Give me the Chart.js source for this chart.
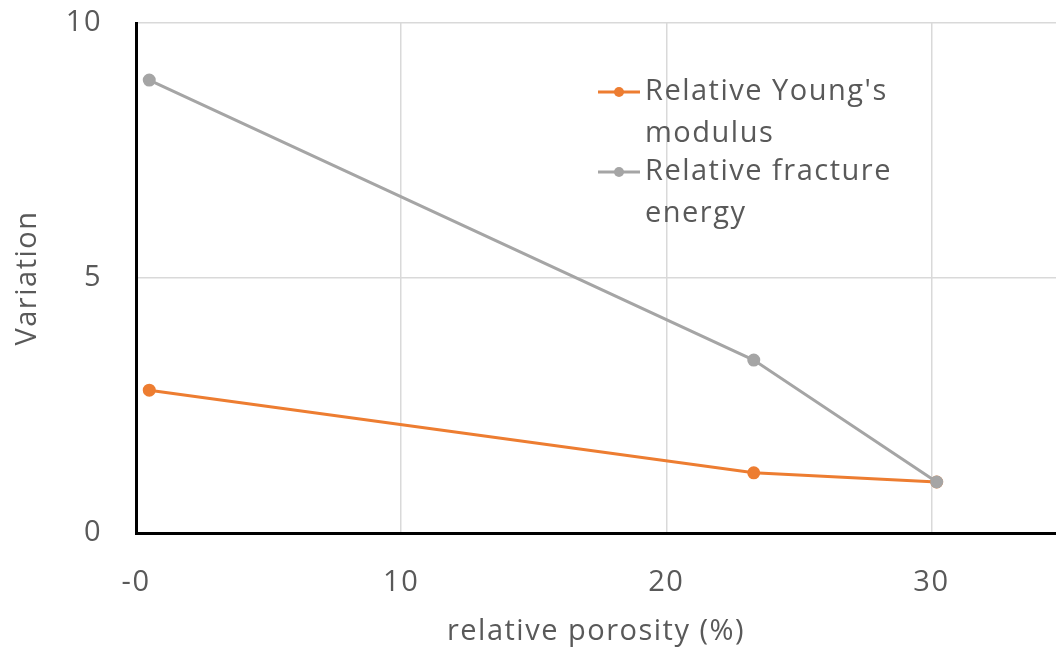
<!DOCTYPE html>
<html>
<head>
<meta charset="utf-8">
<script src="https://cdn.jsdelivr.net/npm/chart.js@4.4.1/dist/chart.umd.min.js"></script>
<style>
  html, body { margin: 0; padding: 0; background: #fff; overflow: hidden; }
  #wrap { width: 1056px; height: 659px; position: relative; }
  canvas { display: block; }
</style>
</head>
<body>
<div id="wrap"><canvas id="grafico"></canvas></div>
<script>
const porosity = [0.5, 23.3, 30.2];
const youngs = [2.8, 1.18, 1.0];
const fracture = [8.88, 3.39, 1.0];
const xTicks = [0, 10, 20, 30];
const xTickLabels = ['-0', '10', '20', '30'];
const yTicks = [0, 5, 10];

const fonte = '"Open Sans", sans-serif';
const tamanho = 29;
const espacamento = '1.5px';
const cinzaTexto = '#595959';

// texto um pouco espaçado, aplicado no contexto antes do layout e do desenho
const espacoLetras = {
    id: 'espacoLetras',
    beforeLayout(chart) { chart.ctx.letterSpacing = espacamento; },
    beforeDraw(chart) { chart.ctx.letterSpacing = espacamento; }
};

// legenda dentro da area do grafico, com quebra de linha
const legendaInterna = {
    id: 'legendaInterna',
    afterDraw(chart) {
        const ctx = chart.ctx;
        const x0 = 598, larguraLinha = 42, xTexto = 645, maxLargura = 270;
        let y = 92;
        ctx.save();
        ctx.font = tamanho + 'px ' + fonte;
        ctx.letterSpacing = espacamento;
        ctx.textBaseline = 'middle';
        chart.data.datasets.forEach(function(ds) {
            ctx.strokeStyle = ds.borderColor;
            ctx.lineWidth = 3;
            ctx.beginPath();
            ctx.moveTo(x0, y);
            ctx.lineTo(x0 + larguraLinha, y);
            ctx.stroke();
            ctx.fillStyle = ds.borderColor;
            ctx.beginPath();
            ctx.arc(x0 + larguraLinha / 2, y, 5, 0, Math.PI * 2);
            ctx.fill();

            const palavras = ds.label.split(' ');
            let linhas = [], atual = '';
            palavras.forEach(function(p) {
                const teste = atual ? atual + ' ' + p : p;
                if (ctx.measureText(teste).width > maxLargura && atual) {
                    linhas.push(atual);
                    atual = p;
                } else {
                    atual = teste;
                }
            });
            linhas.push(atual);
            ctx.fillStyle = cinzaTexto;
            linhas.forEach(function(l, i) {
                ctx.fillText(l, xTexto, y + i * 42);
            });
            y += linhas.length * 40;
        });
        ctx.restore();
    }
};

new Chart(document.getElementById('grafico'), {
    type: 'scatter',
    data: {
        datasets: [
            {
                label: "Relative Young's modulus",
                data: porosity.map((x, i) => ({ x: x, y: youngs[i] })),
                borderColor: '#ED7D31',
                backgroundColor: '#ED7D31',
                showLine: true,
                borderWidth: 3,
                pointRadius: 5,
                order: 1
            },
            {
                label: 'Relative fracture energy',
                data: porosity.map((x, i) => ({ x: x, y: fracture[i] })),
                borderColor: '#A5A5A5',
                backgroundColor: '#A5A5A5',
                showLine: true,
                borderWidth: 3,
                pointRadius: 5,
                order: 0
            }
        ]
    },
    options: {
        responsive: true,
        maintainAspectRatio: false,
        animation: false,
        layout: { autoPadding: false, padding: { top: 23, left: 0, right: 0, bottom: 0 } },
        plugins: {
            legend: { display: false },
            tooltip: { enabled: false }
        },
        scales: {
            x: {
                type: 'linear',
                min: 0,
                max: 34.7,
                afterBuildTicks: function(scale) {
                    scale.ticks = xTicks.map(v => ({ value: v }));
                },
                afterFit: function(scale) {
                    scale.height = 126;
                    scale.paddingLeft = 0;
                    scale.paddingRight = 0;
                },
                grid: { color: '#d9d9d9', lineWidth: 1.5, drawTicks: false },
                border: { color: '#000', width: 3 },
                ticks: {
                    padding: 32,
                    color: cinzaTexto,
                    font: { family: fonte, size: tamanho },
                    maxRotation: 0,
                    callback: function(value, index) { return xTickLabels[index]; }
                },
                title: {
                    display: true,
                    text: 'relative porosity (%)',
                    color: cinzaTexto,
                    font: { family: fonte, size: tamanho },
                    padding: { top: 0, bottom: 10 }
                }
            },
            y: {
                min: 0,
                max: 10,
                afterBuildTicks: function(scale) {
                    scale.ticks = yTicks.map(v => ({ value: v }));
                },
                afterFit: function(scale) {
                    scale.width = 136;
                    scale.paddingTop = 0;
                    scale.paddingBottom = 0;
                },
                grid: { color: '#d9d9d9', lineWidth: 1.5, drawTicks: false },
                border: { color: '#000', width: 3 },
                ticks: {
                    padding: 34,
                    color: cinzaTexto,
                    font: { family: fonte, size: tamanho }
                },
                title: {
                    display: true,
                    text: 'Variation',
                    color: cinzaTexto,
                    font: { family: fonte, size: tamanho },
                    padding: { top: 10, bottom: 0 }
                }
            }
        }
    },
    plugins: [espacoLetras, legendaInterna]
});
</script>
</body>
</html>
